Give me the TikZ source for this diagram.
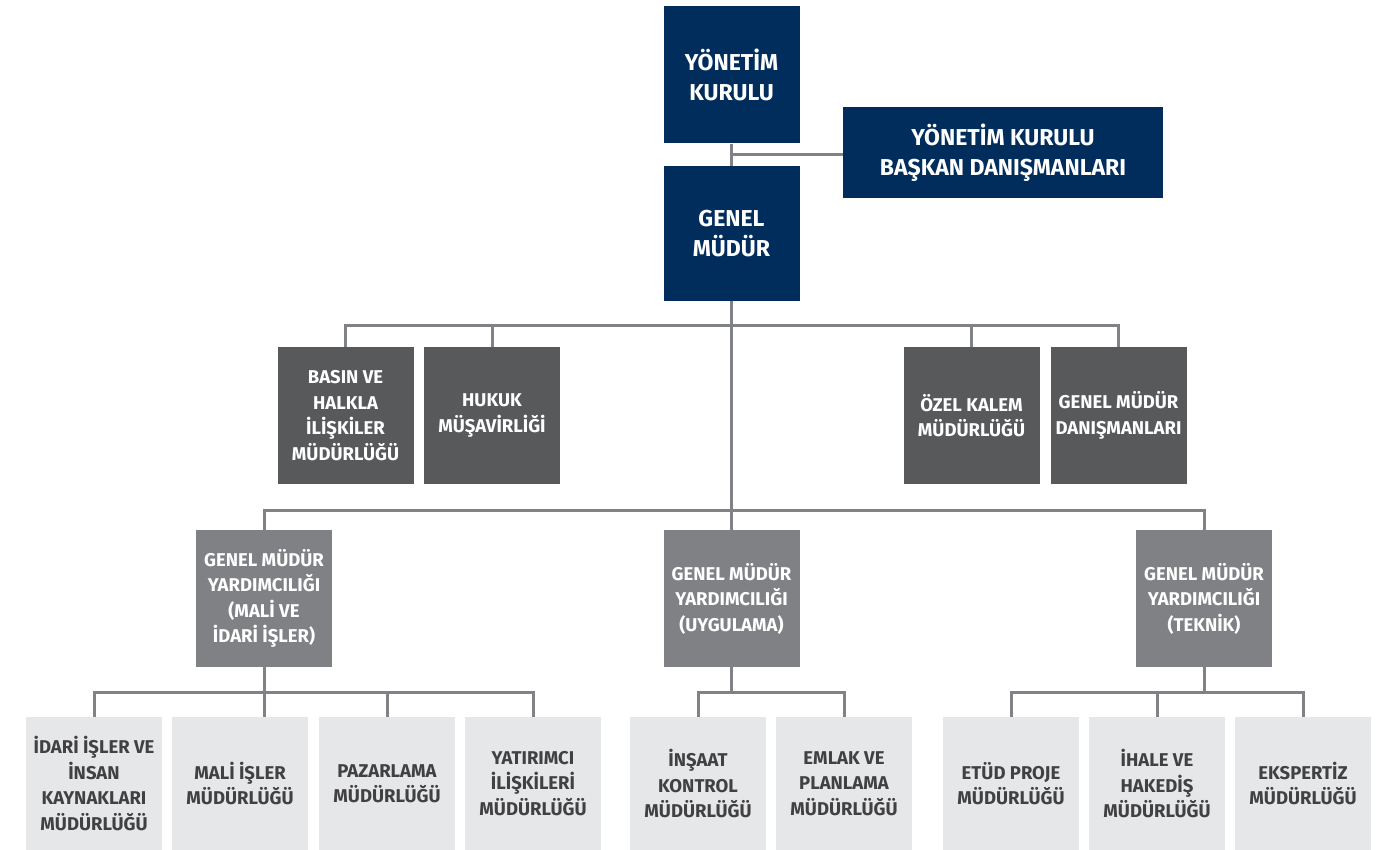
\documentclass[tikz,border=0pt]{standalone}
\usepackage{fontspec}
\setsansfont{Fira Sans}
\usepackage{tikz}
\usetikzlibrary{positioning, calc}

\definecolor{navy}{HTML}{002D5C}
\definecolor{darkbox}{HTML}{58595B}
\definecolor{midbox}{HTML}{808184}
\definecolor{lightbox}{HTML}{E6E7E8}
\definecolor{linegray}{HTML}{808285}
\definecolor{textgray}{HTML}{414042}

\begin{document}
\begin{tikzpicture}[x=1pt, y=-1pt,
    unit/.style={inner sep=0pt, align=center, minimum width=136pt, minimum height=137pt,
        font=\sffamily\bfseries\fontsize{18.5}{25.5}\selectfont},
    board/.style={unit, fill=navy, text=white, font=\sffamily\bfseries\fontsize{23}{30.5}\selectfont},
    office/.style={unit, fill=darkbox, text=white},
    deputy/.style={unit, fill=midbox, text=white},
    dept/.style={unit, fill=lightbox, text=textgray, minimum height=133pt},
    link/.style={draw=linegray, line width=3pt}
]
    \fill[white] (0,0) rectangle (1397,850);
    \useasboundingbox (0,0) rectangle (1397,850);

    % Board and general manager
    \node[board] (yk) at (731.5,75) {YÖNETİM\\KURULU};
    \node[board, minimum width=320pt, minimum height=91pt] (ykbd) at (1003,152.5) {YÖNETİM KURULU\\BAŞKAN DANIŞMANLARI};
    \node[board, minimum height=135pt] (gm) at (731.5,233.5) {GENEL\\MÜDÜR};

    % Offices tied to the general manager
    \node[office] (basin) at (345.5,415.5) {BASIN VE\\HALKLA\\İLİŞKİLER\\MÜDÜRLÜĞÜ};
    \node[office] (hukuk) at (492,415.5) {HUKUK\\MÜŞAVİRLİĞİ};
    \node[office] (ozel) at (971.5,415.5) {ÖZEL KALEM\\MÜDÜRLÜĞÜ};
    \node[office] (gmdan) at (1118.5,415.5) {GENEL MÜDÜR\\DANIŞMANLARI};

    % Deputy general managers
    \node[deputy] (gmy1) at (264,598.5) {GENEL MÜDÜR\\YARDIMCILIĞI\\(MALİ VE\\İDARİ İŞLER)};
    \node[deputy] (gmy2) at (731.5,598.5) {GENEL MÜDÜR\\YARDIMCILIĞI\\(UYGULAMA)};
    \node[deputy] (gmy3) at (1204,598.5) {GENEL MÜDÜR\\YARDIMCILIĞI\\(TEKNİK)};

    % Departments
    \node[dept] (b1) at (94,783.5) {İDARİ İŞLER VE\\İNSAN\\KAYNAKLARI\\MÜDÜRLÜĞÜ};
    \node[dept] (b2) at (240,783.5) {MALİ İŞLER\\MÜDÜRLÜĞÜ};
    \node[dept] (b3) at (387,783.5) {PAZARLAMA\\MÜDÜRLÜĞÜ};
    \node[dept] (b4) at (533,783.5) {YATIRIMCI\\İLİŞKİLERİ\\MÜDÜRLÜĞÜ};
    \node[dept] (b5) at (698,783.5) {İNŞAAT\\KONTROL\\MÜDÜRLÜĞÜ};
    \node[dept] (b6) at (844,783.5) {EMLAK VE\\PLANLAMA\\MÜDÜRLÜĞÜ};
    \node[dept] (b7) at (1011,783.5) {ETÜD PROJE\\MÜDÜRLÜĞÜ};
    \node[dept] (b8) at (1157,783.5) {İHALE VE\\HAKEDİŞ\\MÜDÜRLÜĞÜ};
    \node[dept] (b9) at (1303,783.5) {EKSPERTİZ\\MÜDÜRLÜĞÜ};

    % Connectors
    \coordinate (yjunc) at ($(yk.south)!0.5!(gm.north)$);
    \coordinate (bus1) at (731.5,325);
    \coordinate (bus2) at (731.5,510);
    \draw[link] (yk.south) -- (gm.north);
    \draw[link] (yjunc) -- (yjunc -| ykbd.west);
    \draw[link] (gm.south) -- (gmy2.north);
    \draw[link] (basin.north) |- (bus1) -| (gmdan.north);
    \draw[link] (hukuk.north) -- (hukuk.north |- bus1);
    \draw[link] (ozel.north) -- (ozel.north |- bus1);
    \draw[link] (gmy1.north) |- (bus2) -| (gmy3.north);

    \draw[link] (gmy1.south) -- ++(0,25) coordinate (bus3a);
    \draw[link] (b1.north) |- (bus3a) -| (b4.north);
    \draw[link] (bus3a) -- (bus3a |- b2.north);
    \draw[link] (b3.north) -- (b3.north |- bus3a);

    \draw[link] (gmy2.south) -- ++(0,25) coordinate (bus3b);
    \draw[link] (b5.north) |- (bus3b) -| (b6.north);

    \draw[link] (gmy3.south) -- ++(0,25) coordinate (bus3c);
    \draw[link] (b7.north) |- (bus3c) -| (b9.north);
    \draw[link] (b8.north) -- (b8.north |- bus3c);
\end{tikzpicture}
\end{document}
